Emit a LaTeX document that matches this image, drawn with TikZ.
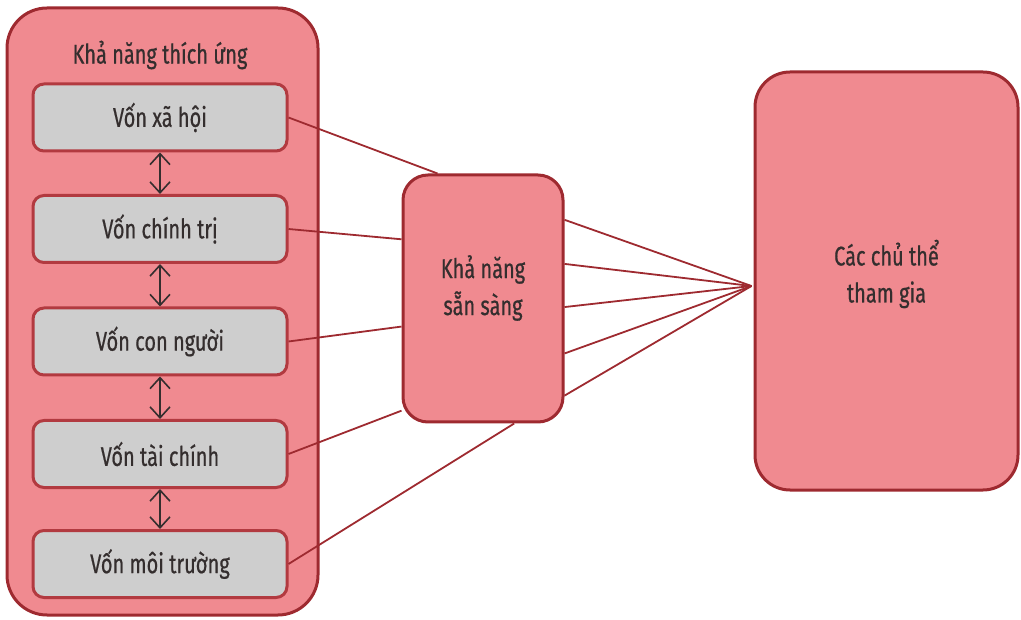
\documentclass[tikz,border=0pt]{standalone}
\usepackage{fontspec}
\setmainfont[FakeStretch=0.74,FakeBold=0.6]{Fira Sans}
\usetikzlibrary{arrows.meta,calc}
\definecolor{pinkfill}{RGB}{240,138,144}
\definecolor{darkred}{RGB}{158,42,48}
\definecolor{innerred}{RGB}{178,58,64}
\definecolor{grayfill}{RGB}{206,206,206}
\definecolor{txt}{RGB}{52,46,46}
\tikzset{
  bigbox/.style={draw=darkred,line width=3pt,fill=pinkfill,rounded corners=#1,inner sep=0pt},
  capbox/.style={draw=innerred,line width=3pt,fill=grayfill,rounded corners=11pt,minimum width=254pt,minimum height=67pt,inner sep=0pt,text=txt,font=\fontsize{27}{31}\selectfont},
  lbl/.style={text=txt,font=\fontsize{27}{37}\selectfont,align=center},
  link/.style={draw=darkred,line width=1.8pt},
  dbl/.style={draw=txt,line width=1.6pt,{Straight Barb[length=11pt,width=20pt,line width=1.6pt]}-{Straight Barb[length=11pt,width=20pt,line width=1.6pt]}}
}
\begin{document}
\begin{tikzpicture}[x=1pt,y=-1pt]
\useasboundingbox (0,0) rectangle (1021,620);
\node[bigbox=40pt,minimum width=311pt,minimum height=607pt] (outer) at (162.5,311.5) {};
\node[lbl] (title) at (160,55) {Khả năng thích ứng};
\node[capbox] (b1) at (160,117.5) {Vốn xã hội};
\node[capbox] (b2) at (160,229) {Vốn chính trị};
\node[capbox] (b3) at (160,341.5) {Vốn con người};
\node[capbox] (b4) at (160,454) {Vốn tài chính};
\node[capbox] (b5) at (160,564) {Vốn môi trường};
\draw[dbl] (b1.south) -- (b2.north);
\draw[dbl] (b2.south) -- (b3.north);
\draw[dbl] (b3.south) -- (b4.north);
\draw[dbl] (b4.south) -- (b5.north);
\node[bigbox=25pt,minimum width=160pt,minimum height=247pt] (mid) at (483,298.5) {};
\node[lbl] (midtext) at (483,288) {Khả năng\\sẵn sàng};
\node[bigbox=35pt,minimum width=263pt,minimum height=418pt] (right) at (886.5,281) {};
\node[lbl] (righttext) at (886.5,274) {Các chủ thể\\tham gia};
\coordinate (conv) at ($(right.west)+(-2,5)$);
\draw[link] (b1.east) -- (mid.110.4);
\draw[link] (b2.east) -- (mid.144.8);
\draw[link] (b3.east) -- (mid.199.6);
\draw[link] (b4.east) -- (mid.234.8);
\draw[link] (b5.east) -- (mid.284.5);
\draw[link] (mid.44.5) -- (conv);
\draw[link] (mid.23.9) -- (conv);
\draw[link] (mid.-6.1) -- (conv);
\draw[link] (mid.-34.3) -- (conv);
\draw[link] (mid.-50.3) -- (conv);
\end{tikzpicture}
\end{document}
